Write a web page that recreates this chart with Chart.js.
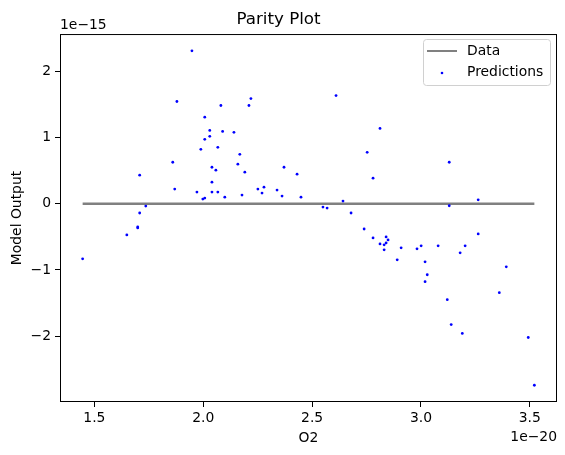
<!DOCTYPE html>
<html>
<head>
<meta charset="utf-8">
<script src="https://cdn.jsdelivr.net/npm/chart.js@4"></script>
<style>
  html, body { margin: 0; padding: 0; background: #fff; }
  #wrap { width: 565px; height: 455px; }
</style>
</head>
<body>
<div id="wrap"><canvas id="parity"></canvas></div>
<script>
// x values in units of 1e-20, y values in units of 1e-15
const predX = [1.446, 1.649, 1.699, 1.699, 1.708, 1.708, 1.736, 1.860, 1.869, 1.879,
  1.948, 1.971, 1.989, 1.998, 2.007, 2.007, 2.007, 2.030, 2.030, 2.040,
  2.040, 2.040, 2.058, 2.067, 2.067, 2.081, 2.089, 2.099, 2.141, 2.159,
  2.168, 2.178, 2.191, 2.210, 2.219, 2.251, 2.270, 2.279, 2.339, 2.362,
  2.371, 2.431, 2.449, 2.550, 2.569, 2.610, 2.642, 2.679, 2.739, 2.753,
  2.780, 2.780, 2.812, 2.812, 2.831, 2.831, 2.840, 2.840, 2.849, 2.891,
  2.909, 2.982, 3.001, 3.019, 3.019, 3.029, 3.079, 3.121, 3.130, 3.130,
  3.139, 3.180, 3.190, 3.203, 3.263, 3.263, 3.360, 3.392, 3.493, 3.521];
const predY = [-0.832, -0.471, -0.350, -0.365, -0.140, 0.431, -0.035, 0.627, 0.221, 1.544,
  2.310, 0.176, 0.822, 0.070, 0.085, 0.973, 1.308, 1.108, 1.018, 0.551,
  0.326, 0.176, 0.507, 0.852, 0.176, 1.484, 1.093, 0.100, 1.078, 0.597,
  0.747, 0.131, 0.477, 1.484, 1.589, 0.221, 0.161, 0.251, 0.206, 0.116,
  0.551, 0.446, 0.100, -0.050, -0.065, 1.634, 0.040, -0.140, -0.381, 0.777,
  0.386, -0.516, 1.138, -0.606, -0.621, -0.696, -0.501, -0.591, -0.546, -0.847,
  -0.666, -0.681, -0.636, -0.877, -1.177, -1.072, -0.636, -1.448, 0.627, -0.030,
  -1.824, -0.741, -1.959, -0.636, 0.060, -0.456, -1.343, -0.952, -2.020, -2.741];
const dataX = [1.446, 3.521];
const dataY = [0, 0];
const xTicks = [1.5, 2.0, 2.5, 3.0, 3.5];
const yTicks = [-2, -1, 0, 1, 2];

const FONT = 'DejaVu Sans';
const minus = s => String(s).replace('-', '\u2212');

const extras = {
  id: 'extras',
  afterDraw(chart) {
    const { ctx, chartArea: a } = chart;
    ctx.save();
    // axes frame
    ctx.strokeStyle = '#000';
    ctx.lineWidth = 1;
    ctx.strokeRect(a.left + 0.5, a.top + 0.5, a.right - a.left - 1, a.bottom - a.top - 1);
    // offset texts
    ctx.fillStyle = '#000';
    ctx.font = '13.9px ' + FONT;
    ctx.textBaseline = 'alphabetic';
    ctx.textAlign = 'left';
    ctx.fillText('1e\u221215', a.left, a.top - 5);
    ctx.textAlign = 'right';
    ctx.fillText('1e\u221220', a.right, 441);
    // legend
    const bx = 423, by = 39, bw = 127, bh = 46;
    ctx.fillStyle = 'rgba(255,255,255,0.8)';
    ctx.strokeStyle = '#d0d0d0';
    ctx.beginPath();
    ctx.roundRect(bx + 0.5, by + 0.5, bw, bh, 3);
    ctx.fill();
    ctx.stroke();
    ctx.strokeStyle = '#808080';
    ctx.lineWidth = 2;
    ctx.beginPath();
    ctx.moveTo(427, 51);
    ctx.lineTo(457, 51);
    ctx.stroke();
    ctx.fillStyle = '#0000ff';
    ctx.beginPath();
    ctx.arc(442, 73, 1.3, 0, Math.PI * 2);
    ctx.fill();
    ctx.fillStyle = '#000';
    ctx.textAlign = 'left';
    ctx.textBaseline = 'middle';
    ctx.fillText('Data', 467, 51);
    ctx.fillText('Predictions', 467, 72);
    ctx.restore();
  }
};

new Chart(document.getElementById('parity'), {
  type: 'scatter',
  data: {
    datasets: [
      {
        label: 'Data',
        data: dataX.map((x, i) => ({ x, y: dataY[i] })),
        showLine: true,
        borderColor: '#808080',
        borderWidth: 2.5,
        pointRadius: 0,
        order: 2
      },
      {
        label: 'Predictions',
        data: predX.map((x, i) => ({ x, y: predY[i] })),
        backgroundColor: '#0000ff',
        borderColor: '#0000ff',
        borderWidth: 0,
        pointRadius: 1.4,
        order: 1
      }
    ]
  },
  plugins: [extras],
  options: {
    responsive: true,
    maintainAspectRatio: false,
    animation: false,
    layout: { padding: { left: 0, right: 8, top: 0, bottom: 0 } },
    plugins: {
      legend: { display: false },
      tooltip: { enabled: false },
      title: {
        display: true,
        text: 'Parity Plot',
        color: '#000',
        font: { family: FONT, size: 16.7, weight: 'normal' },
        padding: { top: 10, bottom: 4 }
      }
    },
    scales: {
      x: {
        type: 'linear',
        min: 1.342,
        max: 3.625,
        afterBuildTicks: s => { s.ticks = xTicks.map(v => ({ value: v })); },
        afterFit: s => { s.height = 53; },
        ticks: {
          color: '#000',
          font: { family: FONT, size: 13.9 },
          padding: 3,
          maxRotation: 0,
          callback: v => v.toFixed(1)
        },
        grid: { drawOnChartArea: false, drawTicks: true, tickLength: 5, color: '#000' },
        border: { display: false },
        title: {
          display: true,
          text: 'O2',
          color: '#000',
          font: { family: FONT, size: 13.9 },
          padding: { top: 0, bottom: 8 }
        }
      },
      y: {
        type: 'linear',
        min: -2.994,
        max: 2.563,
        afterBuildTicks: s => { s.ticks = yTicks.map(v => ({ value: v })); },
        afterFit: s => { s.width = 60; },
        ticks: {
          color: '#000',
          font: { family: FONT, size: 13.9 },
          padding: 4,
          callback: v => minus(v)
        },
        grid: { drawOnChartArea: false, drawTicks: true, tickLength: 5, color: '#000' },
        border: { display: false },
        title: {
          display: true,
          text: 'Model Output',
          color: '#000',
          font: { family: FONT, size: 13.9 },
          padding: { top: 9, bottom: 0 }
        }
      }
    }
  }
});
</script>
</body>
</html>
